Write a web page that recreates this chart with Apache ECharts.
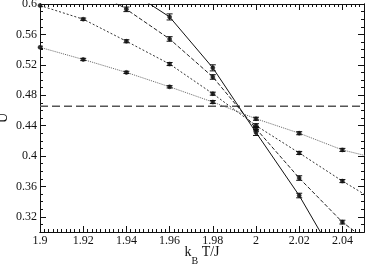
<!DOCTYPE html>
<html><head><meta charset="utf-8">
<script src="https://cdn.jsdelivr.net/npm/echarts@6/dist/echarts.min.js"></script>
<style>html,body{margin:0;padding:0;background:#fff}#c{width:366px;height:265px}</style>
</head><body><div id="c"></div>
<script>
// ---- data ----
const temps = [1.88, 1.90, 1.92, 1.94, 1.96, 1.98, 2.00, 2.02, 2.04, 2.06];
const U1 = [null, 0.543, 0.527, 0.510, 0.491, 0.471, 0.449, 0.430, 0.408, 0.394];
const U2 = [null, 0.598, 0.580, 0.551, 0.521, 0.482, 0.440, 0.404, 0.367, 0.333];
const U3 = [null, null, 0.628, 0.593, 0.554, 0.504, 0.436, 0.371, 0.313, 0.270];
const U4 = [null, null, null, 0.620, 0.583, 0.516, 0.431, 0.348, 0.250, null];
const E1 = [0, 0.0015, 0.0015, 0.0015, 0.0015, 0.002, 0.002, 0.002, 0.002, 0.002];
const E2 = [0, 0.0015, 0.0015, 0.002, 0.002, 0.002, 0.0025, 0.002, 0.002, 0.002];
const E3 = [0, 0, 0.003, 0.003, 0.003, 0.003, 0.003, 0.003, 0.0025, 0.003];
const E4 = [0, 0, 0, 0.004, 0.004, 0.004, 0.004, 0.003, 0.003, 0];
const criticalU = 0.4656;
const xMajorTicks = [1.9, 1.92, 1.94, 1.96, 1.98, 2.0, 2.02, 2.04];
const yMajorTicks = [0.32, 0.36, 0.4, 0.44, 0.48, 0.52, 0.56, 0.6];
const xRange = [1.9, 2.05];
const yRange = [0.3, 0.6];

const FONT = 'Liberation Serif';
const INK = '#111';
const fmt = v => String(parseFloat((+v).toFixed(3)));

function pairs(U) { return temps.map((t, i) => [t, U[i]]).filter(p => p[1] != null); }
function errs(U, E) { return temps.map((t, i) => [t, U[i], E[i]]).filter(p => p[1] != null && p[2] > 0); }

const lineDefs = [
  { U: U1, E: E1, type: 'dotted', color: '#666' },
  { U: U2, E: E2, type: [2, 2], color: '#333' },
  { U: U3, E: E3, type: [4, 2], color: '#222' },
  { U: U4, E: E4, type: 'solid', color: '#111' }
];

const series = [];
lineDefs.forEach(d => {
  series.push({
    type: 'line', data: pairs(d.U), xAxisIndex: 0, yAxisIndex: 0,
    symbol: 'circle', symbolSize: 4, showAllSymbol: true, clip: true,
    lineStyle: { width: 1, type: d.type, color: d.color },
    itemStyle: { color: '#333', borderColor: '#111', borderWidth: 0.5 },
    emphasis: { disabled: true }, animation: false, z: 3
  });
  series.push({
    type: 'custom', xAxisIndex: 0, yAxisIndex: 0, clip: true, animation: false, z: 4,
    data: errs(d.U, d.E),
    renderItem: (params, api) => {
      const x = api.value(0), y = api.value(1), e = api.value(2);
      const p1 = api.coord([x, y + e]), p2 = api.coord([x, y - e]);
      const w = 3;
      return { type: 'group', children: [
        { type: 'line', shape: { x1: p1[0], y1: p1[1], x2: p2[0], y2: p2[1] }, style: { stroke: '#111', lineWidth: 1 } },
        { type: 'line', shape: { x1: p1[0] - w, y1: p1[1], x2: p1[0] + w, y2: p1[1] }, style: { stroke: '#111', lineWidth: 1 } },
        { type: 'line', shape: { x1: p2[0] - w, y1: p2[1], x2: p2[0] + w, y2: p2[1] }, style: { stroke: '#111', lineWidth: 1 } }
      ] };
    }
  });
});
series.push({
  type: 'line', data: [[xRange[0], criticalU], [xRange[1], criticalU]], symbol: 'none',
  lineStyle: { width: 1.5, type: [8, 4], color: '#555' }, animation: false, z: 2
});

const axLine = { show: true, lineStyle: { color: INK, width: 1 } };
const labelStyle = { fontFamily: FONT, fontSize: 12, color: INK };

function xAx(pos, major, withLabel, withName) {
  const a = {
    type: 'value', position: pos, min: xRange[0], max: xRange[1],
    interval: major ? 0.02 : 0.002,
    axisLine: axLine, splitLine: { show: false },
    axisTick: { show: true, inside: true, length: major ? 6 : 3, lineStyle: { color: INK, width: 1 } },
    axisLabel: { show: false }
  };
  if (major) a.axisTick.customValues = xMajorTicks;
  if (withLabel) a.axisLabel = Object.assign({ show: true, margin: 3, formatter: fmt, customValues: xMajorTicks, hideOverlap: false }, labelStyle);
  if (withName) {
    a.name = '{a|k}{b|B}{a| T/J}';
    a.nameLocation = 'middle';
    a.nameGap = 13;
    a.nameTextStyle = { rich: {
      a: { fontFamily: FONT, fontSize: 14, color: INK, lineHeight: 16, verticalAlign: 'top' },
      b: { fontFamily: FONT, fontSize: 10, color: INK, lineHeight: 10, padding: [11, 0, 0, 0], verticalAlign: 'top' }
    } };
  }
  return a;
}
function yAx(pos, major, withLabel, withName) {
  const a = {
    type: 'value', position: pos, min: yRange[0], max: yRange[1],
    interval: 0.01,
    axisLine: axLine, splitLine: { show: false },
    axisTick: { show: true, inside: true, length: major ? 6 : 3, lineStyle: { color: INK, width: 1 } },
    axisLabel: { show: false }
  };
  if (major) a.axisTick.customValues = yMajorTicks;
  if (withLabel) a.axisLabel = Object.assign({ show: true, margin: 3, formatter: fmt, customValues: yMajorTicks }, labelStyle);
  if (withName) {
    a.name = 'U'; a.nameLocation = 'middle'; a.nameRotate = 90; a.nameGap = 30;
    a.nameTextStyle = { fontFamily: FONT, fontSize: 14, color: INK };
  }
  return a;
}

const chart = echarts.init(document.getElementById('c'), null, { renderer: 'canvas' });
chart.setOption({
  animation: false,
  backgroundColor: '#fff',
  grid: { left: 40, top: 4, width: 324, height: 228, containLabel: false, outerBoundsMode: 'none' },
  xAxis: [xAx('bottom', false, false, true), xAx('bottom', true, true, false), xAx('top', false, false, false), xAx('top', true, false, false)],
  yAxis: [yAx('left', false, false, true), yAx('left', true, true, false), yAx('right', false, false, false), yAx('right', true, false, false)],
  series: series
});
</script></body></html>
